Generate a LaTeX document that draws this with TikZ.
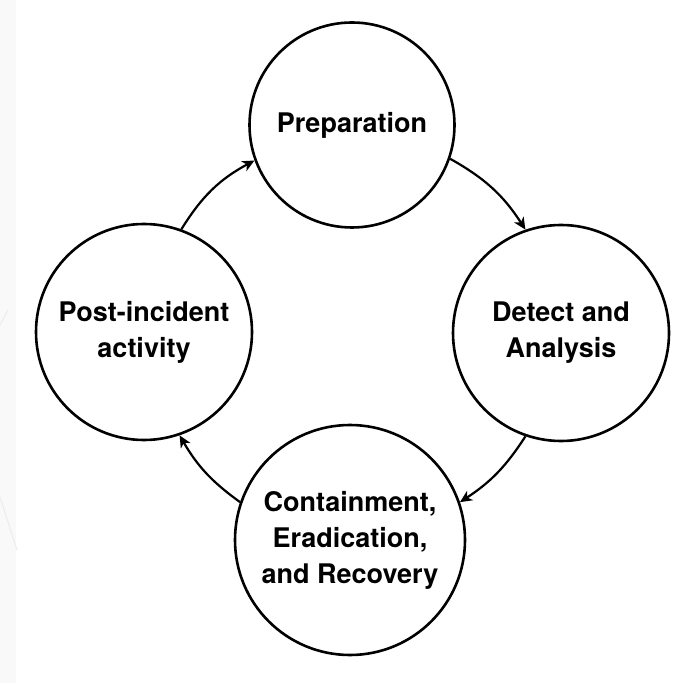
\documentclass[tikz,border=0pt]{standalone}
\usepackage{fontspec}
\setmainfont{TeX Gyre Heros}
\usetikzlibrary{arrows.meta}
\begin{document}
\begin{tikzpicture}[x=1pt,y=1pt,
  phase/.style={circle,draw,line width=2.6pt,inner sep=0pt,align=center,
    font=\bfseries\fontsize{27}{36}\selectfont},
  flow/.style={line width=2.2pt,-{Stealth[length=12pt,width=11pt,inset=3.5pt]}}]
\useasboundingbox (0,0) rectangle (692,683);
\fill[white] (0,0) rectangle (692,683);
\fill[gray!5] (0,0) rectangle (16,683);
\draw[gray!15,line width=1pt] (0,358) -- (8,373);
\draw[gray!15,line width=1pt] (0,186) -- (17,133);
\node[phase,minimum size=205pt] (prep) at (352,558) {Preparation};
\node[phase,minimum size=216pt] (det) at (561,350) {Detect and\\Analysis};
\node[phase,minimum size=230pt] (cont) at (350,143) {Containment,\\Eradication,\\and Recovery};
\node[phase,minimum size=216pt] (post) at (144,351) {Post-incident\\activity};
\draw[flow] (prep.-19) to[bend left=14] (det.109);
\draw[flow] (det.-109) to[bend left=12] (cont.19);
\draw[flow] (cont.161) to[bend left=12] (post.-71);
\draw[flow] (post.70) to[bend left=15] (prep.200);
\end{tikzpicture}
\end{document}
